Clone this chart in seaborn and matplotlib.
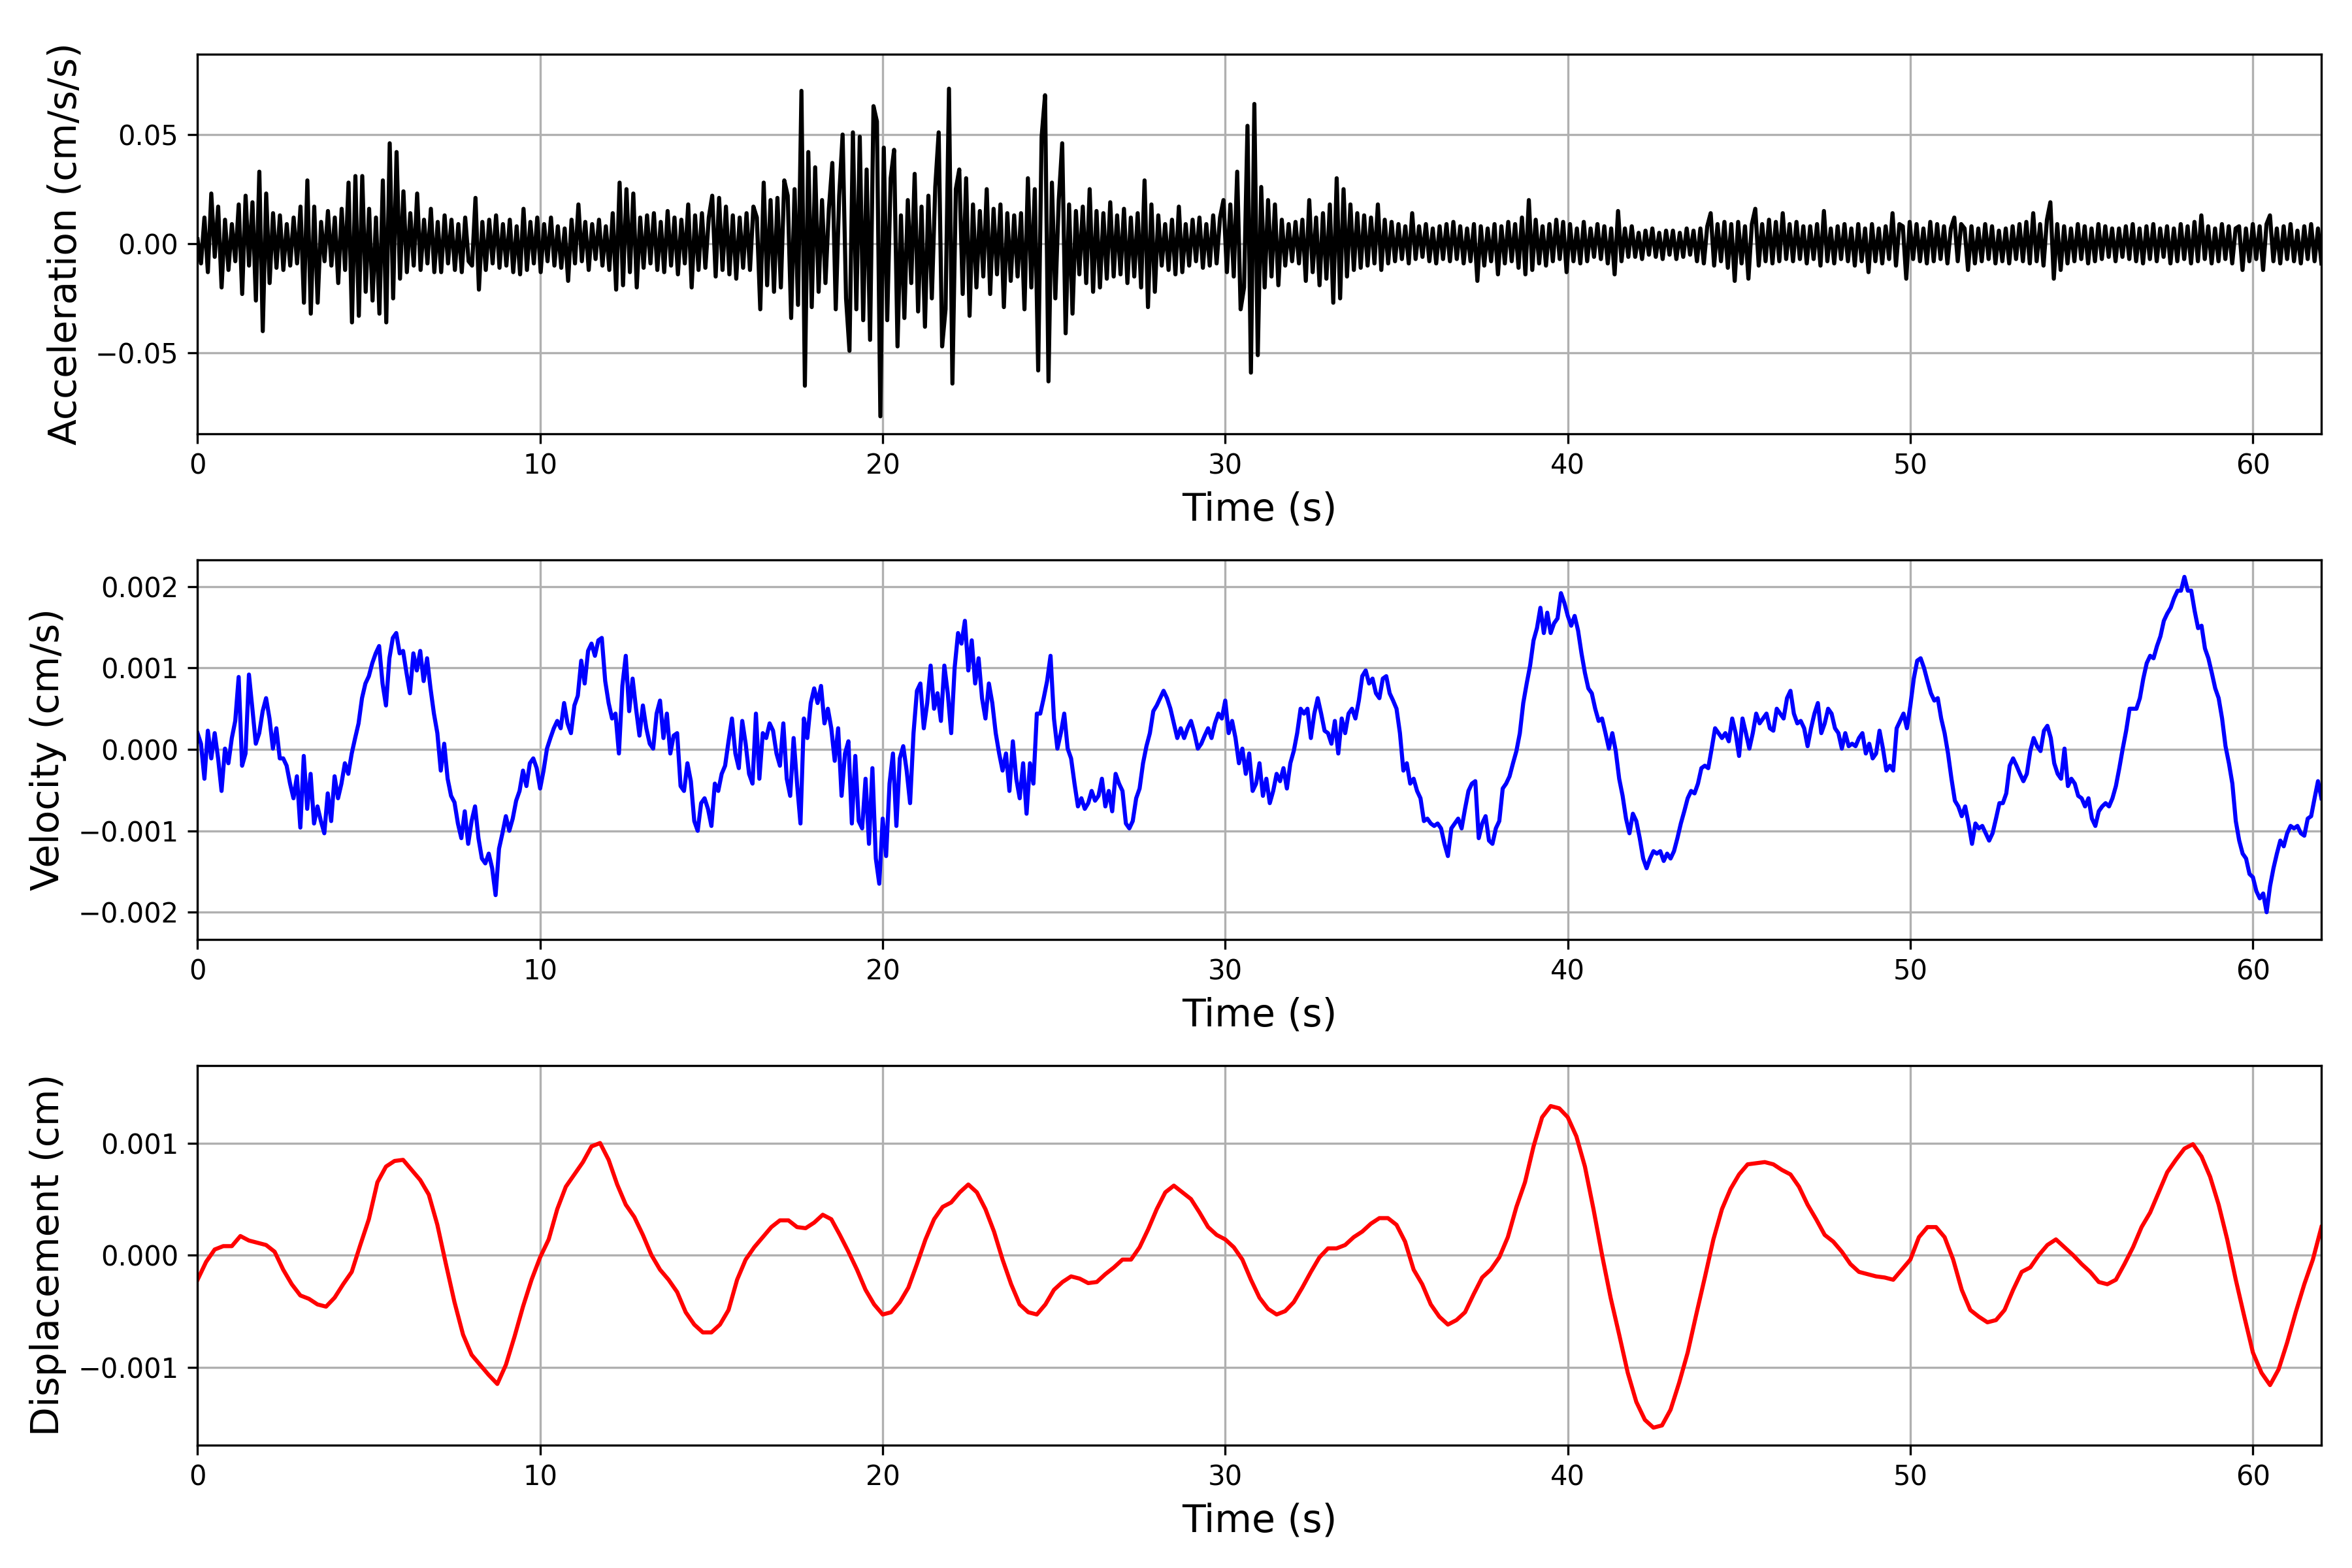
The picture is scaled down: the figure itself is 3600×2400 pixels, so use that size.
import numpy as np
import pandas as pd
import seaborn as sns
import matplotlib
matplotlib.use("Agg")
import matplotlib.pyplot as plt

# ---------------------------------------------------------------------------
# Ground-motion record (0 - 62 s)
# ---------------------------------------------------------------------------
# acceleration sampled every 0.1 s, in units of 1e-3 cm/s/s
acc_milli = [
    2, -9, 12, -13, 23, -6, 17, -20, 11, -12,
    9, -8, 18, -23, 22, -10, 19, -26, 33, -40,
    23, -18, 14, -11, 13, -12, 9, -10, 12, -9,
    17, -27, 29, -32, 17, -27, 10, -8, 15, -10,
    12, -18, 16, -12, 28, -36, 31, -33, 31, -22,
    16, -26, 12, -32, 29, -36, 46, -25, 42, -16,
    24, -13, 14, -10, 23, -12, 11, -9, 16, -13,
    10, -13, 13, -9, 11, -12, 9, -13, 12, -8,
    -10, 21, -21, 10, -12, 11, -9, 13, -11, 9,
    -10, 11, -13, 8, -14, 16, -12, 10, -9, 12,
    -13, 9, -8, 12, -10, 8, -11, 7, -17, 11,
    -9, 18, -8, 10, -12, 9, -7, 11, -10, 8,
    -12, 14, -21, 28, -19, 25, -13, 23, -20, 12,
    -11, 13, -9, 14, -12, 10, -13, 15, -10, 12,
    -14, 11, -9, 18, -20, 13, -12, 14, -11, 12,
    22, -15, 21, -12, 17, -14, 13, -16, 12, -11,
    14, -12, 17, 12, -30, 28, -19, 20, -22, 21,
    -20, 29, 22, -34, 25, -28, 70, -65, 42, -29,
    35, -22, 20, -18, 16, 37, -30, 22, 50, -25,
    -49, 51, -30, 49, -35, 34, -44, 63, 56, -79,
    44, -35, 30, 43, -47, 13, -34, 20, -18, 32,
    -31, 17, -38, 22, -25, 26, 51, -47, -30, 71,
    -64, 25, 34, -23, 30, -33, 18, -20, 15, -15,
    25, -23, 16, -14, 18, -29, 14, -17, 13, -15,
    14, -30, 30, -20, 25, -58, 49, 68, -63, 28,
    -25, 20, 46, -41, 18, -32, 15, -14, 17, -18,
    25, -22, 15, -20, 14, -16, 19, -15, 13, -14,
    16, -18, 12, -15, 14, -20, 29, -29, 18, -22,
    13, -10, 9, -12, 11, -14, 17, -13, 9, -10,
    11, -8, 12, -11, 9, -10, 13, -9, 12, 20,
    -13, 18, -15, 33, -30, -20, 54, -59, 64, -51,
    26, -20, 20, -15, 18, -19, 11, -10, 9, -8,
    10, -9, 11, -17, 20, -13, 12, -19, 14, -16,
    18, -27, 30, -25, 25, -15, 18, -12, 14, -11,
    13, -10, 12, -9, 18, -12, 11, -9, 10, -8,
    9, -7, 8, -9, 14, -7, 8, -6, 9, -8,
    7, -9, 8, -7, 9, -8, 10, -7, 8, -9,
    7, -8, 9, -17, 8, -10, 7, -8, 9, -14,
    8, -9, 10, -8, 9, -11, 12, -14, 20, -12,
    11, -9, 8, -10, 9, -8, 11, -7, 10, -13,
    9, -8, 7, -9, 10, -8, 7, -6, 9, -7,
    8, -9, 7, -14, 15, -8, 7, -6, 8, -6,
    5, -7, 6, -5, 7, -6, 5, -7, 6, -5,
    6, -7, 5, -6, 7, -5, 6, -8, 7, -9,
    8, 14, -10, 9, -8, 10, -11, 9, -17, 10,
    -9, 8, -16, 9, 16, -10, 9, -8, 11, -9,
    10, -8, 14, -7, 9, -8, 10, -7, 8, -9,
    8, -7, 9, -10, 15, -8, 7, -9, 8, -7,
    9, -8, 7, -10, 9, -8, 7, -13, 9, -8,
    7, -9, 8, -7, 14, -10, 9, 8, -16, 10,
    -7, 9, -8, 7, -9, 10, -8, 9, -7, 8,
    -9, 7, 12, -8, 9, 7, -12, 8, -9, 7,
    -8, 9, -7, 8, -9, 6, -8, 7, -9, 8,
    -7, 9, -8, 10, -9, 14, -8, 9, -10, 11,
    19, -16, 9, -12, 8, -9, 7, -8, 9, -7,
    8, -9, 7, -8, 9, -7, 8, -6, 7, -8,
    7, -6, 8, -7, 9, -8, 7, -9, 8, -7,
    9, -8, 7, -6, 8, -9, 7, -8, 9, -7,
    8, -9, 10, -8, 13, -7, 8, -9, 7, -8,
    9, -7, 8, -9, 7, 8, -12, 7, -8, 9,
    -7, 8, -12, 9, 13, -8, 7, -9, 8, -7,
    9, -8, 6, -9, 8, -7, 9, -8, 7, -9,
]

# velocity sampled every 0.1 s, in units of 1e-5 cm/s
vel_1e5 = [
    20, 7, -36, 23, -11, 20, -11, -51, 1, -17,
    14, 35, 89, -20, -5, 92, 50, 7, 20, 47,
    63, 38, 1, 26, -11, -11, -20, -42, -60, -33,
    -96, -8, -73, -30, -91, -70, -88, -103, -54, -88,
    -33, -60, -42, -17, -30, -5, 14, 32, 63, 81,
    90, 106, 118, 127, 81, 54, 112, 137, 143, 118,
    121, 94, 69, 118, 97, 121, 84, 112, 75, 44,
    20, -26, 7, -36, -57, -65, -91, -109, -76, -116,
    -88, -70, -109, -134, -140, -128, -146, -179, -122, -103,
    -82, -100, -85, -63, -51, -26, -45, -17, -11, -23,
    -48, -26, 1, 14, 26, 35, 26, 57, 32, 20,
    54, 66, 109, 81, 121, 130, 115, 134, 137, 84,
    57, 38, 44, -5, 78, 115, 47, 87, 50, 17,
    54, 26, 7, 1, 44, 60, 14, 44, -5, 17,
    20, -45, -51, -17, -39, -88, -100, -66, -60, -73,
    -94, -42, -51, -30, -20, 10, 38, -5, -23, 35,
    7, -30, -42, 44, -36, 20, 14, 32, 23, -5,
    -20, 32, -36, -57, 14, -42, -91, 38, 14, 57,
    75, 57, 78, 32, 50, 26, -14, 26, -57, -5,
    10, -91, -8, -88, -97, -36, -116, -23, -134, -165,
    -85, -131, -42, -5, -94, -11, 4, -26, -66, 20,
    72, 81, 26, 57, 103, 50, 69, 35, 103, 69,
    20, 100, 143, 130, 158, 97, 134, 81, 112, 63,
    38, 81, 57, 20, -5, -26, -5, -51, 10, -36,
    -60, -17, -79, -17, -42, 44, 44, 63, 84, 115,
    38, 1, 20, 44, 1, -11, -42, -70, -60, -73,
    -66, -51, -63, -57, -36, -70, -51, -76, -30, -42,
    -51, -91, -97, -88, -60, -48, -17, 4, 20, 47,
    54, 63, 72, 63, 50, 32, 14, 26, 14, 26,
    35, 20, 1, 7, 17, 26, 14, 32, 44, 38,
    60, 20, 35, 14, -17, 1, -30, -5, -51, -42,
    -17, -57, -36, -66, -51, -30, -39, -23, -48, -17,
    -2, 20, 50, 44, 50, 14, 44, 63, 44, 23,
    20, 7, 35, -5, 38, 20, 44, 50, 38, 60,
    90, 97, 81, 87, 69, 63, 87, 90, 69, 60,
    50, 20, -26, -17, -42, -36, -51, -60, -88, -85,
    -91, -94, -91, -97, -116, -131, -97, -91, -85, -97,
    -73, -51, -42, -39, -109, -91, -82, -112, -116, -97,
    -88, -48, -42, -33, -17, -2, 20, 57, 81, 103,
    134, 149, 174, 143, 168, 143, 155, 161, 192, 180,
    164, 152, 164, 146, 118, 94, 75, 69, 50, 35,
    38, 20, 1, 20, -2, -36, -57, -85, -103, -79,
    -88, -109, -134, -146, -134, -125, -128, -125, -137, -128,
    -134, -125, -109, -91, -76, -60, -51, -54, -42, -23,
    -20, -23, 1, 26, 20, 14, 20, 10, 38, 20,
    -8, 38, 20, 1, 20, 44, 32, 38, 44, 26,
    23, 50, 44, 38, 63, 72, 44, 32, 35, 26,
    4, 26, 44, 57, 20, 32, 50, 44, 26, 20,
    1, 20, 4, 7, 4, 14, 20, -5, 7, -11,
    -5, 23, 1, -26, -20, -26, 26, 35, 44, 26,
    54, 87, 109, 112, 100, 84, 69, 60, 63, 38,
    20, -5, -36, -63, -70, -82, -70, -91, -116, -91,
    -97, -94, -103, -112, -103, -85, -66, -66, -54, -20,
    -11, -20, -30, -39, -30, -2, 14, 4, -2, 23,
    29, 14, -17, -30, -36, 1, -45, -36, -42, -57,
    -60, -70, -60, -85, -94, -76, -70, -66, -70, -60,
    -45, -23, 1, 23, 50, 50, 50, 63, 87, 106,
    115, 112, 127, 139, 158, 167, 174, 186, 195, 195,
    212, 195, 195, 170, 149, 152, 124, 112, 94, 75,
    63, 38, 4, -17, -42, -88, -112, -128, -134, -153,
    -157, -174, -183, -177, -200, -168, -146, -128, -112, -119,
    -103, -94, -97, -94, -103, -106, -85, -82, -60, -39,
    -60,
]

# displacement sampled every 0.25 s, in units of 1e-5 cm
disp_1e5 = [
    -22, -6, 5, 8, 8, 17, 13, 11, 9, 3, -13, -26, -36, -39, -44, -46,
    -38, -26, -15, 9, 32, 65, 79, 84, 85, 76, 67, 54, 27, -8, -42, -71,
    -89, -98, -107, -115, -98, -73, -46, -22, -2, 14, 41, 61, 72, 83, 97, 100,
    85, 63, 45, 34, 18, 0, -13, -22, -33, -51, -62, -69, -69, -62, -49, -22,
    -4, 7, 16, 25, 31, 31, 25, 24, 29, 36, 32, 18, 3, -13, -31, -44,
    -53, -51, -42, -29, -8, 14, 32, 43, 47, 56, 63, 56, 41, 21, -4, -26,
    -44, -51, -53, -44, -31, -24, -19, -21, -25, -24, -17, -11, -4, -4, 7, 23,
    41, 56, 62, 56, 50, 38, 25, 18, 14, 7, -4, -22, -38, -48, -53, -50,
    -42, -29, -15, -2, 6, 6, 9, 16, 21, 28, 33, 33, 27, 12, -13, -26,
    -44, -55, -62, -58, -51, -35, -20, -13, -2, 16, 43, 65, 97, 123, 133, 131,
    123, 106, 79, 41, 0, -38, -71, -105, -131, -147, -154, -152, -138, -114, -87, -53,
    -20, 14, 41, 59, 72, 81, 82, 83, 81, 76, 72, 61, 45, 32, 18, 12,
    3, -8, -15, -17, -19, -20, -22, -13, -4, 16, 25, 25, 16, -4, -31, -49,
    -55, -60, -58, -49, -31, -15, -11, 0, 9, 14, 7, 0, -8, -15, -24, -26,
    -22, -8, 7, 25, 38, 56, 74, 85, 95, 99, 88, 70, 45, 14, -22, -55,
    -87, -105, -116, -102, -78, -51, -26, -4, 25,
]

T_END = 62.0

acc = np.array(acc_milli) * 1e-3
vel = np.array(vel_1e5) * 1e-5
disp = np.array(disp_1e5) * 1e-5

records = [
    ("Acceleration (cm/s/s)", acc, "black"),
    ("Velocity (cm/s)", vel, "blue"),
    ("Displacement (cm)", disp, "red"),
]

# ---------------------------------------------------------------------------
# Plot: three stacked time histories
# ---------------------------------------------------------------------------
fig, axes = plt.subplots(3, 1, figsize=(12, 8), dpi=300)
fig.subplots_adjust(left=0.084, right=0.987, top=0.9656, bottom=0.0785, hspace=0.332)

for ax, (label, values, color) in zip(axes, records):
    df = pd.DataFrame({"time": np.linspace(0, T_END, len(values)), "value": values})
    sns.lineplot(data=df, x="time", y="value", ax=ax, color=color, linewidth=1.5,
                 estimator=None, sort=False)
    lim = 1.1 * np.abs(values).max()
    ax.set_ylim(-lim, lim)
    ax.set_xlim(0, T_END)
    ax.grid(True)
    ax.set_xlabel("Time (s)", fontsize=14)
    ax.set_ylabel(label, fontsize=14)

axes[0].set_yticks([-0.05, 0.0, 0.05])
axes[1].set_yticks([-0.002, -0.001, 0.0, 0.001, 0.002])
axes[2].set_yticks([-0.001, 0.0, 0.001])

fig.savefig("out.png", dpi=300)
